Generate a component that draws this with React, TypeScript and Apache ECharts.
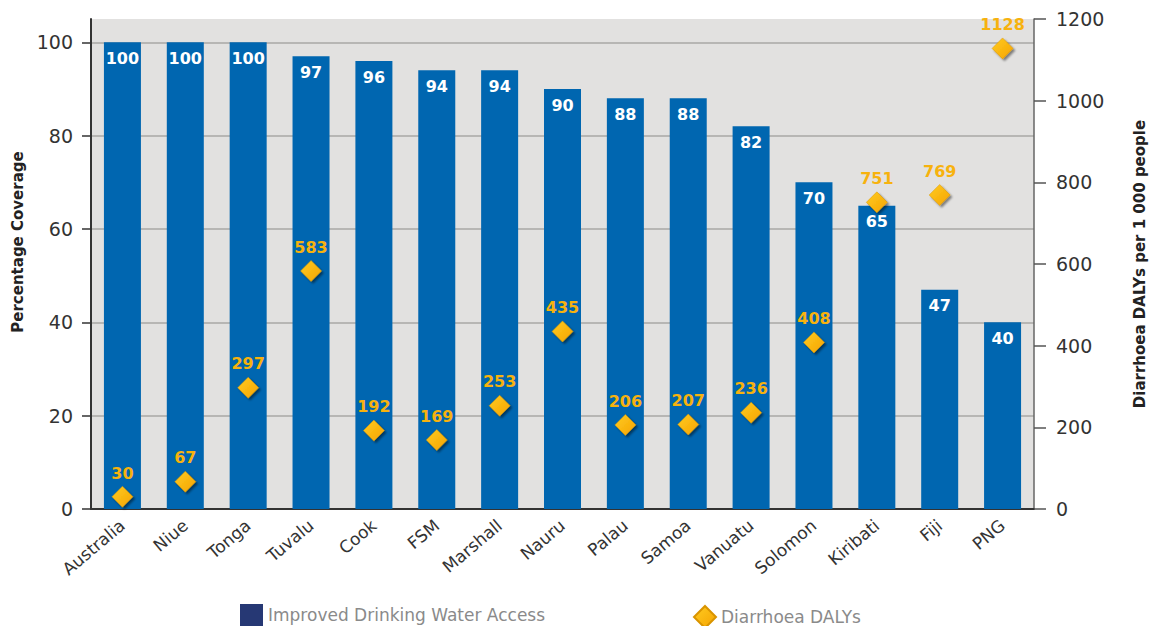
import React, { useEffect, useRef } from "react";
import * as echarts from "echarts";

const categories = ["Australia", "Niue", "Tonga", "Tuvalu", "Cook", "FSM", "Marshall", "Nauru", "Palau", "Samoa", "Vanuatu", "Solomon", "Kiribati", "Fiji", "PNG"];
const waterAccess = [100, 100, 100, 97, 96, 94, 94, 90, 88, 88, 82, 70, 65, 47, 40];
const diarrhoeaDalys = [30, 67, 297, 583, 192, 169, 253, 435, 206, 207, 236, 408, 751, 769, 1128];
const leftTicks = [0, 20, 40, 60, 80, 100];

const FONT = "DejaVu Sans";

export default function App() {
  const ref = useRef<HTMLDivElement>(null);
  useEffect(() => {
    if (!ref.current) return;
    const chart = echarts.init(ref.current, null, { renderer: "svg" });
    chart.setOption({
      animation: false,
      textStyle: { fontFamily: FONT },
      grid: {
        left: 91,
        right: 120,
        top: 19,
        bottom: 117,
        show: true,
        backgroundColor: "#e2e1e0",
        borderWidth: 0,
      },
      legend: [
        {
          left: 235,
          top: 599,
          itemWidth: 23,
          itemHeight: 22,
          textStyle: { color: "#8a8a8a", fontSize: 17, fontFamily: FONT },
          data: [{ name: "Improved Drinking Water Access", icon: "rect", itemStyle: { color: "#263874" } }],
        },
        {
          left: 688,
          top: 600,
          itemWidth: 22,
          itemHeight: 22,
          textStyle: { color: "#8a8a8a", fontSize: 17, fontFamily: FONT },
          data: [{ name: "Diarrhoea DALYs", icon: "diamond" }],
        },
      ],
      xAxis: {
        type: "category",
        data: categories,
        axisLine: { lineStyle: { color: "#333", width: 2 } },
        axisTick: { inside: true, length: 12, lineStyle: { color: "#333", width: 1.5 } },
        axisLabel: { rotate: 40, color: "#333", fontSize: 17, margin: 14, fontFamily: FONT },
      },
      yAxis: [
        {
          type: "value",
          min: 0,
          max: 105,
          interval: 20,
          name: "Percentage Coverage",
          nameLocation: "middle",
          nameRotate: 90,
          nameGap: 66,
          nameTextStyle: { fontWeight: "bold", fontSize: 15, color: "#222", fontFamily: FONT, padding: [0, 0, 0, 44] },
          axisLine: { show: true, lineStyle: { color: "#333", width: 2 } },
          axisTick: { show: true, length: 9, customValues: leftTicks, lineStyle: { color: "#333", width: 1.5 } },
          axisLabel: { customValues: leftTicks, color: "#333", fontSize: 19, margin: 18, fontFamily: FONT },
          splitLine: { show: true, showMinLine: false, showMaxLine: true, lineStyle: { color: "#a8a7a6", width: 1.5 } },
        },
        {
          type: "value",
          min: 0,
          max: 1200,
          interval: 200,
          position: "right",
          name: "Diarrhoea DALYs per 1 000 people",
          nameLocation: "middle",
          nameRotate: 90,
          nameGap: 98,
          nameTextStyle: { fontWeight: "bold", fontSize: 15, color: "#222", fontFamily: FONT },
          axisLine: { show: true, lineStyle: { color: "#666", width: 1.5 } },
          axisTick: { show: true, length: 12, lineStyle: { color: "#555", width: 1.5 } },
          axisLabel: { color: "#333", fontSize: 19, margin: 22, fontFamily: FONT, formatter: (v: number) => String(v) },
          splitLine: { show: false },
        },
      ],
      series: [
        {
          name: "Improved Drinking Water Access",
          type: "bar",
          data: waterAccess,
          yAxisIndex: 0,
          barWidth: 37,
          z: 2,
          itemStyle: { color: "#0066b0" },
          label: {
            show: true,
            position: "insideTop",
            distance: 8,
            color: "#ffffff",
            fontWeight: "bold",
            fontSize: 16,
            fontFamily: FONT,
          },
        },
        {
          name: "Diarrhoea DALYs",
          type: "scatter",
          data: diarrhoeaDalys,
          yAxisIndex: 1,
          symbol: "diamond",
          symbolSize: 21,
          z: 5,
          itemStyle: {
            opacity: 1,
            color: new echarts.graphic.LinearGradient(0, 0, 1, 1, [
              { offset: 0, color: "#ffcc22" },
              { offset: 1, color: "#f5a300" },
            ]),
            borderColor: "#d99400",
            borderWidth: 0.5,
            shadowColor: "rgba(0,0,0,0.45)",
            shadowBlur: 2,
            shadowOffsetX: 2,
            shadowOffsetY: 2,
          },
          label: {
            show: true,
            position: "top",
            distance: 5,
            color: "#f7b20e",
            fontWeight: "bold",
            fontSize: 16,
            fontFamily: FONT,
          },
        },
      ],
    });
    return () => chart.dispose();
  }, []);
  return <div ref={ref} style={{ width: 1155, height: 626, position: "absolute", left: 0, top: 0 }} />;
}
